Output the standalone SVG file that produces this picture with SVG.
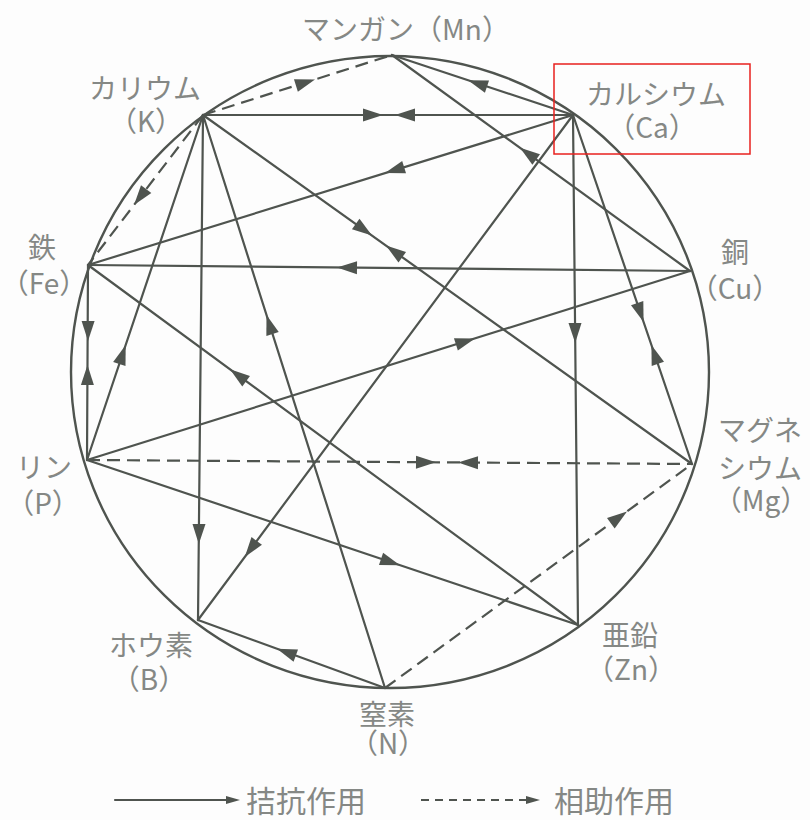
<svg xmlns="http://www.w3.org/2000/svg" width="810" height="820" viewBox="0 0 810 820">
<style>
.ln{stroke:#4f544f;stroke-width:2.2;fill:none;stroke-linecap:round}
.ds{stroke:#4f544f;stroke-width:2.2;fill:none;stroke-dasharray:13 7}
.lbl{font-family:"Noto Sans CJK JP","Noto Sans",sans-serif;font-size:28px;fill:#858885;text-anchor:middle}
.leg{font-family:"Noto Sans CJK JP","Noto Sans",sans-serif;font-size:30px;fill:#858885}
.ah{fill:#4f544f}
</style>
<defs>
<path id="ah" class="ah" d="M0,0 L-20,-6.5 L-20,6.5 Z"/>
<path id="ahs" class="ah" d="M0,0 L-14,-4 L-14,4 Z"/>
</defs>
<rect x="0" y="0" width="810" height="820" fill="#fdfdfd"/>
<ellipse cx="390" cy="372" rx="319" ry="316" fill="none" stroke="#4f544f" stroke-width="2.4"/>
<g id="connectors">
<line class="ln" x1="203" y1="115" x2="573" y2="115"/>
<use href="#ah" transform="translate(383 115) rotate(0)"/>
<use href="#ah" transform="translate(395 115) rotate(180)"/>
<line class="ln" x1="573" y1="115" x2="392" y2="55"/>
<use href="#ah" transform="translate(468 80.3) rotate(198.4)"/>
<line class="ln" x1="690" y1="271" x2="392" y2="55"/>
<use href="#ah" transform="translate(520 147.8) rotate(215.9)"/>
<line class="ln" x1="573" y1="115" x2="88" y2="265"/>
<use href="#ah" transform="translate(385 173) rotate(162.8)"/>
<line class="ln" x1="573" y1="115" x2="198" y2="620"/>
<use href="#ah" transform="translate(244.8 557) rotate(126.6)"/>
<line class="ln" x1="573" y1="115" x2="578" y2="625"/>
<use href="#ah" transform="translate(575.2 343) rotate(89.4)"/>
<line class="ln" x1="573" y1="115" x2="692" y2="464"/>
<use href="#ah" transform="translate(643.6 322) rotate(71.2)"/>
<use href="#ah" transform="translate(651.4 345) rotate(251.2)"/>
<line class="ln" x1="203" y1="115" x2="692" y2="464"/>
<use href="#ah" transform="translate(372 235.6) rotate(35.5)"/>
<use href="#ah" transform="translate(386 245.6) rotate(215.5)"/>
<line class="ln" x1="203" y1="115" x2="198" y2="620"/>
<use href="#ah" transform="translate(198.8 544) rotate(90.6)"/>
<line class="ln" x1="385" y1="688" x2="203" y2="115"/>
<use href="#ah" transform="translate(266.5 315) rotate(-107.6)"/>
<line class="ln" x1="87" y1="460" x2="203" y2="115"/>
<use href="#ah" transform="translate(125.7 345) rotate(-71.4)"/>
<line class="ln" x1="88" y1="265" x2="87" y2="460"/>
<use href="#ah" transform="translate(88 341) rotate(90.3)"/>
<use href="#ah" transform="translate(87.5 365) rotate(-89.7)"/>
<line class="ln" x1="690" y1="271" x2="88" y2="265"/>
<use href="#ah" transform="translate(337 267.5) rotate(180.6)"/>
<line class="ln" x1="578" y1="625" x2="88" y2="265"/>
<use href="#ah" transform="translate(230 369.3) rotate(216.3)"/>
<line class="ln" x1="87" y1="460" x2="690" y2="271"/>
<use href="#ah" transform="translate(475 338.4) rotate(-17.4)"/>
<line class="ln" x1="87" y1="460" x2="578" y2="625"/>
<use href="#ah" transform="translate(400 565.2) rotate(18.6)"/>
<line class="ln" x1="385" y1="688" x2="198" y2="620"/>
<use href="#ah" transform="translate(277 648.7) rotate(200)"/>
<line class="ds" x1="203" y1="115" x2="392" y2="55"/>
<use href="#ah" transform="translate(315 79.4) rotate(-17.6)"/>
<line class="ds" x1="203" y1="115" x2="88" y2="265"/>
<use href="#ah" transform="translate(134 205) rotate(127.5)"/>
<line class="ds" x1="87" y1="460" x2="692" y2="464"/>
<use href="#ah" transform="translate(436 462.3) rotate(0.4)"/>
<use href="#ah" transform="translate(458 462.5) rotate(180.4)"/>
<line class="ds" x1="385" y1="688" x2="692" y2="464"/>
<use href="#ah" transform="translate(627 511.4) rotate(-36.1)"/>
</g>
<g id="node-Mn"><text class="lbl" x="406" y="40">マンガン（Mn）</text></g>
<g id="node-K"><text class="lbl" x="145" y="99">カリウム</text><text class="lbl" x="146" y="132">（K）</text></g>
<g id="node-Ca"><text class="lbl" x="656" y="105">カルシウム</text><text class="lbl" x="652" y="138">（Ca）</text></g>
<g id="node-Fe"><text class="lbl" x="42" y="258">鉄</text><text class="lbl" x="44" y="294">（Fe）</text></g>
<g id="node-Cu"><text class="lbl" x="735" y="263">銅</text><text class="lbl" x="735" y="299">（Cu）</text></g>
<g id="node-Mg"><text class="lbl" x="760" y="441">マグネ</text><text class="lbl" x="760" y="479">シウム</text><text class="lbl" x="761" y="511">（Mg）</text></g>
<g id="node-P"><text class="lbl" x="44" y="478">リン</text><text class="lbl" x="43" y="514">（P）</text></g>
<g id="node-B"><text class="lbl" x="151" y="656">ホウ素</text><text class="lbl" x="149" y="690">（B）</text></g>
<g id="node-N"><text class="lbl" x="387" y="725">窒素</text><text class="lbl" x="388" y="754">（N）</text></g>
<g id="node-Zn"><text class="lbl" x="630" y="646">亜鉛</text><text class="lbl" x="631" y="680">（Zn）</text></g>
<g id="legend">
<line class="ln" x1="115" y1="800" x2="228" y2="800" stroke-width="1.8"/>
<use href="#ahs" transform="translate(240 800)"/>
<text class="leg" x="246" y="812">拮抗作用</text>
<line class="ds" x1="421" y1="800" x2="528" y2="800" stroke-width="1.8" style="stroke-dasharray:8 6"/>
<use href="#ahs" transform="translate(540 800)"/>
<text class="leg" x="554" y="812">相助作用</text>
</g>
<rect x="554" y="64" width="196" height="90" fill="none" stroke="#e8201e" stroke-width="1.5"/>
</svg>
